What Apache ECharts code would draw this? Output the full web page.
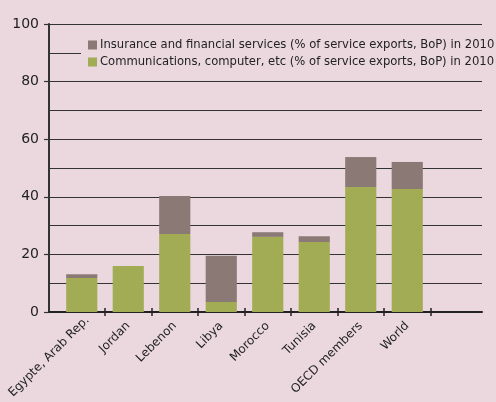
<!DOCTYPE html>
<html><head><meta charset="utf-8">
<script src="https://cdn.jsdelivr.net/npm/echarts@6/dist/echarts.min.js"></script>
<style>html,body{margin:0;padding:0;background:#EAD8DE;}#c{width:496px;height:402px;}</style>
</head><body><div id="c"></div>
<script>
const categories = ['Egypte, Arab Rep.', 'Jordan', 'Lebenon', 'Libya', 'Morocco', 'Tunisia', 'OECD members', 'World'];
const commsValues = [11.8, 16.0, 27.1, 3.5, 26.1, 24.3, 43.4, 42.7];
const insuranceValues = [1.3, 0, 13.2, 16.0, 1.6, 2.0, 10.4, 9.4];
const yTickLabels = [0, 20, 40, 60, 80, 100];
const insName = 'Insurance and financial services (% of service exports, BoP) in 2010';
const comName = 'Communications, computer, etc (% of service exports, BoP) in 2010';

const bg = '#EAD8DE';
const font = 'DejaVu Sans';
const gTop = 24, gBottom = 90;
const labelCats = categories.map(function (c, i) {
  return i === 0 ? {value: c, textStyle: {padding: [16, -8, 0, 0]}} : c;
});
const chart = echarts.init(document.getElementById('c'), null, {renderer: 'canvas'});
chart.setOption({
  backgroundColor: bg,
  animation: false,
  textStyle: {fontFamily: font},
  grid: [
    {left: 49, right: 14, top: gTop, bottom: gBottom, outerBoundsMode: 'none', containLabel: false},
    {left: 58.5, width: 372, top: gTop, bottom: gBottom, outerBoundsMode: 'none', containLabel: false}
  ],
  legend: {
    data: [insName, comName],
    orient: 'vertical', left: 81, top: 36,
    icon: 'rect', itemWidth: 9, itemHeight: 9, itemGap: 5,
    padding: [3, 20, 3, 7],
    backgroundColor: bg,
    textStyle: {fontFamily: font, fontSize: 11.6, color: '#222', padding: [0, 0, 0, -2]}
  },
  xAxis: [
    {gridIndex: 0, type: 'value', min: 0, max: 1, position: 'bottom',
     axisLine: {show: true, lineStyle: {color: '#222', width: 2}}, axisTick: {show: false},
     axisLabel: {show: false}, splitLine: {show: false}},
    {gridIndex: 1, type: 'category', data: labelCats, position: 'bottom', boundaryGap: true,
     axisLine: {show: false}, axisTick: {show: false},
     axisLabel: {rotate: 45, margin: 12, fontSize: 12, color: '#222', fontFamily: font, interval: 0}},
    {gridIndex: 1, type: 'category', data: categories, position: 'bottom', boundaryGap: true, offset: -4,
     axisLine: {show: false},
     axisTick: {show: true, length: 8, lineStyle: {color: '#222', width: 1.5}, interval: function (i) { return i !== 0; }},
     axisLabel: {show: false}}
  ],
  yAxis: [
    {gridIndex: 0, type: 'value', min: 0, max: 100, interval: 10, position: 'left',
     axisLine: {show: false}, axisTick: {show: false}, axisLabel: {show: false},
     splitLine: {show: true, lineStyle: {color: '#333', width: 1.2}}},
    {gridIndex: 0, type: 'value', min: 0, max: 100, interval: 20, position: 'left',
     axisLine: {show: true, lineStyle: {color: '#333', width: 2}},
     axisTick: {show: true, length: 5, lineStyle: {color: '#333', width: 1.2}},
     axisLabel: {show: true, fontSize: 14, color: '#222', margin: 10, fontFamily: font,
       formatter: function (v) { return yTickLabels.indexOf(v) >= 0 ? String(v) : ''; }},
     splitLine: {show: false}},
    {gridIndex: 1, type: 'value', min: 0, max: 100, show: false}
  ],
  series: [
    {name: comName, type: 'bar', xAxisIndex: 1, yAxisIndex: 2, stack: 's', data: commsValues,
     itemStyle: {color: '#A1AC55'}, barCategoryGap: '33%'},
    {name: insName, type: 'bar', xAxisIndex: 1, yAxisIndex: 2, stack: 's', data: insuranceValues,
     itemStyle: {color: '#8B7975'}, barCategoryGap: '33%'}
  ]
});
</script></body></html>
